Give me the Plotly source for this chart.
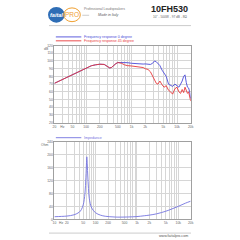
import plotly.graph_objects as go

# ---------------- data ----------------
freq_fr = [20, 30, 40, 50, 70, 100, 130, 160, 200, 250, 300, 330, 360, 400, 450, 500,
           600, 700, 800, 1000, 1200, 1500, 1800, 2000, 2300, 2600, 2900, 3200, 3500,
           3800, 4200, 4700, 5200, 5800, 6500, 7200, 8000, 9000, 10000, 11000, 12000,
           13000, 14000, 15000, 16000, 17000, 18000, 19000, 20000]
spl_0deg = [71, 76, 79.5, 82, 86, 90.5, 93.8, 95, 95.8, 95.5, 93, 91, 91.5, 94.5, 96.5, 98,
            98, 97.5, 97.8, 97, 96.5, 96.8, 96, 96.2, 96, 95.5, 97, 100, 99,
            97, 94, 88, 84, 80, 70, 68, 67, 70, 68, 66, 70,
            74, 80, 82, 72, 66, 65, 60, 51]
spl_45deg = [71, 76, 79.5, 82, 86, 90.5, 93.8, 95, 95.8, 95.5, 93, 91, 91.5, 94.5, 96.5, 98,
             97, 95, 94, 93.5, 93, 92, 91.5, 90, 89, 86, 80, 75, 71,
             70, 74, 69, 66, 68, 62, 60, 57, 64, 66, 60, 58,
             63, 59, 66, 62, 58, 60, 54, 48]

freq_imp = [10, 15, 20, 30, 40, 45, 50, 55, 58, 60, 61, 62, 64, 67, 70, 80, 100, 130,
            170, 220, 300, 400, 600, 1000, 1500, 2000, 3000, 5000, 7000, 10000, 15000, 20000]
impedance = [8, 9, 10, 14, 22, 30, 45, 80, 130, 175, 193, 180, 140, 95, 65, 35, 20, 13,
             9.5, 8, 7, 6.8, 7.2, 8.5, 11, 13, 17, 25, 32, 40, 50, 56]

grid_top = [20, 30, 40, 50, 60, 70, 80, 90, 100, 200, 300, 400, 500, 600, 700, 800, 900,
            1000, 2000, 3000, 4000, 5000, 6000, 7000, 8000, 9000, 10000, 20000]
labels_top = {20: "20", 30: "Hz", 50: "50", 100: "100", 200: "200", 500: "500",
              1000: "1k", 2000: "2k", 5000: "5k", 10000: "10k", 20000: "20k"}
grid_bot = [10, 20, 30, 40, 50, 60, 70, 80, 90] + grid_top[8:]
labels_bot = {10: "10", 20: "20", 50: "50", 100: "100", 200: "200", 500: "500",
              1000: "1k", 2000: "2k", 5000: "5k", 10000: "10k", 20000: "20k"}
db_ticks = [20, 30, 40, 50, 60, 70, 80, 90, 100, 110, 120]
ohm_ticks = [0, 40, 80, 120, 160, 200, 240]

BLUE = "#4a4ad8"
RED = "#e8383a"
IMPBLUE = "#7474e0"
GRID = "#d6d6d6"
AX = "#a0a0a0"
TXT = "#666666"
FONT = "Liberation Sans"

def px(x):
    return x / 240.0

def py(y):
    return 1 - y / 240.0

fig = go.Figure()
fig.add_trace(go.Scatter(x=freq_fr, y=spl_0deg, mode="lines", line=dict(color=BLUE, width=0.9),
                         xaxis="x", yaxis="y", showlegend=False))
fig.add_trace(go.Scatter(x=freq_fr, y=spl_45deg, mode="lines", line=dict(color=RED, width=0.9),
                         xaxis="x", yaxis="y", showlegend=False))
fig.add_trace(go.Scatter(x=freq_imp, y=impedance, mode="lines", line=dict(color=IMPBLUE, width=0.9),
                         line_shape="spline", xaxis="x2", yaxis="y2", showlegend=False))

axcommon = dict(showline=True, mirror=True, linecolor=AX, linewidth=0.6, gridcolor=GRID,
                gridwidth=0.5, ticks="", zeroline=False,
                tickfont=dict(size=3.4, color=TXT, family=FONT))

fig.update_layout(
    width=240, height=240, margin=dict(l=0, r=0, t=0, b=0),
    paper_bgcolor="white", plot_bgcolor="white",
    xaxis=dict(type="log", range=[1.30103, 4.30103], domain=[px(53.5), px(192.7)],
               tickvals=grid_top, ticktext=[labels_top.get(v, "") for v in grid_top],
               anchor="y", **axcommon),
    yaxis=dict(range=[20, 120], domain=[py(122.7), py(44.3)], tickvals=db_ticks,
               anchor="x", **axcommon),
    xaxis2=dict(type="log", range=[1, 4.30103], domain=[px(53.5), px(192.7)],
                tickvals=grid_bot, ticktext=[labels_bot.get(v, "") for v in grid_bot],
                anchor="y2", **axcommon),
    yaxis2=dict(range=[0, 240], domain=[py(221), py(142)], tickvals=ohm_ticks,
                anchor="x2", **axcommon),
)

shapes = []
annotations = []

def note(text, x, y, size, color, xanchor="center", yanchor="middle"):
    annotations.append(dict(text=text, x=px(x), y=py(y), xref="paper", yref="paper",
                            xanchor=xanchor, yanchor=yanchor, showarrow=False,
                            font=dict(size=size, color=color, family=FONT)))

# header lines
shapes.append(dict(type="line", xref="paper", yref="paper", x0=px(48), x1=px(193), y0=py(24), y1=py(24),
                   line=dict(color="#cccccc", width=1)))
shapes.append(dict(type="line", xref="paper", yref="paper", x0=px(48), x1=px(193), y0=py(235), y1=py(235),
                   line=dict(color="#cccccc", width=1)))
# logo
shapes.append(dict(type="circle", xref="paper", yref="paper", x0=px(47), x1=px(64), y0=py(21), y1=py(5),
                   fillcolor="#2e6db5", line=dict(width=0)))
shapes.append(dict(type="circle", xref="paper", yref="paper", x0=px(63), x1=px(80), y0=py(20), y1=py(6),
                   fillcolor="rgba(0,0,0,0)", line=dict(color="#f0a030", width=1)))
note("<b><i>faital</i></b>", 55.5, 13, 5.5, "white")
note("PRO", 71.5, 13, 6.5, "#f0a030")
note("Professional Loudspeakers", 82, 7.5, 3.4, "#777", xanchor="left")
note("<i>Made in Italy</i>", 96, 13.5, 3.6, "#555", xanchor="left")
shapes.append(dict(type="line", xref="paper", yref="paper", x0=px(82), x1=px(89), y0=py(13.5), y1=py(13.5),
                   line=dict(color="#999", width=0.5)))
note("<b>10FH530</b>", 192, 7.5, 9, "#222", xanchor="right")
note('10" - 500W - 97 dB - 8Ω', 192, 15.5, 3.2, "#666", xanchor="right")
note("www.faitalpro.com", 192, 238, 3.6, "#555", xanchor="right")
# legends
for (yy, col, label) in [(35.5, BLUE, "Frequency response 0 degree"),
                         (39.5, RED, "Frequency response 45 degree"),
                         (138, IMPBLUE, "Impedance")]:
    shapes.append(dict(type="line", xref="paper", yref="paper", x0=px(55), x1=px(81), y0=py(yy), y1=py(yy),
                       line=dict(color=col, width=0.9)))
    note(label, 81.5, yy, 3.6, col, xanchor="left")
# unit labels
note("dB", 50.5, 48.3, 3.4, TXT, xanchor="right")
note("Ohm", 50.5, 145.5, 3.4, TXT, xanchor="right")
note("Hz", 60, 224.5, 3.4, TXT)

fig.update_layout(shapes=shapes, annotations=annotations)
fig.write_html("out.html")
